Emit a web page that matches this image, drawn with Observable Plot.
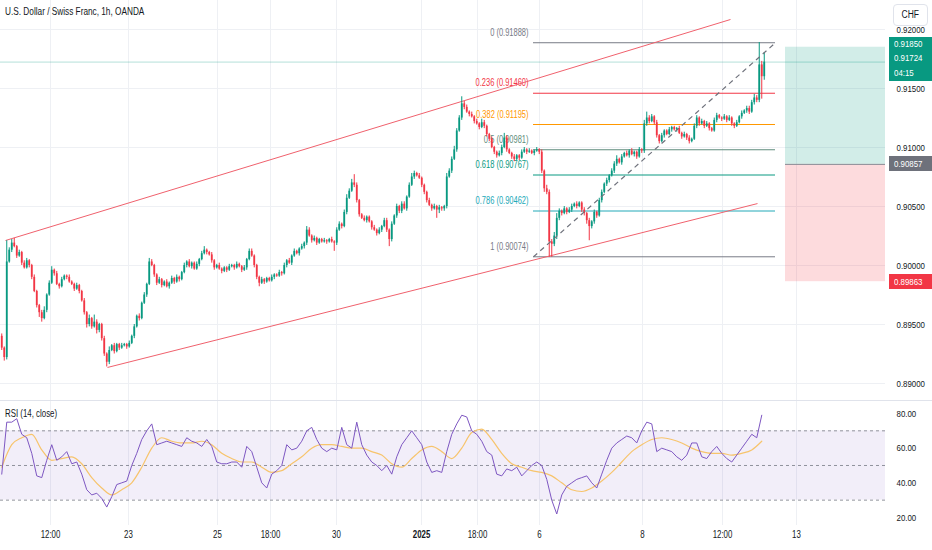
<!DOCTYPE html>
<html><head><meta charset="utf-8">
<script src="https://cdn.jsdelivr.net/npm/d3@7"></script>
<script src="https://cdn.jsdelivr.net/npm/@observablehq/plot@0.6"></script>
<style>
body{margin:0;background:#fff;}
#wrap{position:relative;width:932px;height:550px;overflow:hidden;background:#fff;font-family:"Liberation Sans",Arial,sans-serif;color:#131722;}
#wrap svg{position:absolute;left:0;}
.ov{position:absolute;white-space:nowrap;}
.sq{display:inline-block;transform-origin:0 50%;}
</style></head><body><div id="wrap"></div>
<script>
// ---- DATA ----
const title = "U.S. Dollar / Swiss Franc, 1h, OANDA";
const rsiTitle = "RSI (14, close)";
const firstOpen = 0.8940;
// hourly closes (bar index 0..305)
const closes = [
0.8930,0.8922,0.9003,0.9013,0.9019,0.9016,0.9008,0.9011,0.9002,0.8998,
0.9004,0.9000,0.8990,0.8978,0.8966,0.8960,0.8955,0.8962,0.8975,0.8985,
0.8996,0.8993,0.8984,0.8982,0.8988,0.8991,0.8990,0.8986,0.8984,0.8980,
0.8983,0.8978,0.8970,0.8960,0.8950,0.8955,0.8948,0.8952,0.8945,0.8950,
0.8938,0.8925,0.8918,0.8928,0.8932,0.8927,0.8933,0.8930,0.8932,0.8933,
0.8931,0.8934,0.8940,0.8948,0.8957,0.8955,0.8968,0.8975,0.8984,0.9003,
0.9000,0.8992,0.8985,0.8988,0.8983,0.8986,0.8982,0.8985,0.8989,0.8986,
0.8990,0.8988,0.8994,0.9000,0.9003,0.8999,0.9002,0.8997,0.9001,0.9005,
0.9010,0.9013,0.9011,0.9009,0.9004,0.8998,0.9000,0.8997,0.8995,0.8998,
0.8996,0.8999,0.9000,0.8998,0.9001,0.8999,0.8996,0.8998,0.9005,0.9012,
0.9008,0.9000,0.8990,0.8985,0.8988,0.8986,0.8989,0.8987,0.8990,0.8992,
0.8991,0.8994,0.8993,0.9000,0.9004,0.9002,0.9008,0.9012,0.9010,0.9014,
0.9016,0.9019,0.9030,0.9025,0.9021,0.9023,0.9019,0.9022,0.9020,0.9021,
0.9020,0.9022,0.9020,0.9019,0.9030,0.9035,0.9033,0.9045,0.9057,0.9063,
0.9070,0.9068,0.9055,0.9043,0.9040,0.9038,0.9041,0.9037,0.9032,0.9030,
0.9027,0.9030,0.9033,0.9038,0.9030,0.9022,0.9035,0.9042,0.9050,0.9046,
0.9052,0.9048,0.9058,0.9068,0.9075,0.9078,0.9076,0.9074,0.9068,0.9062,
0.9055,0.9051,0.9048,0.9050,0.9047,0.9049,0.9048,0.9050,0.9075,0.9080,
0.9090,0.9098,0.9114,0.9125,0.9137,0.9134,0.9130,0.9128,0.9126,0.9122,
0.9120,0.9117,0.9121,0.9118,0.9111,0.9107,0.9100,0.9096,0.9093,0.9095,
0.9100,0.9108,0.9098,0.9095,0.9092,0.9090,0.9093,0.9091,0.9096,0.9098,
0.9096,0.9097,0.9095,0.9097,0.9098,0.9096,0.9080,0.9065,0.9062,0.9020,
0.9018,0.9025,0.9040,0.9046,0.9044,0.9048,0.9045,0.9047,0.9050,0.9052,
0.9050,0.9053,0.9047,0.9044,0.9038,0.9033,0.9037,0.9045,0.9042,0.9055,
0.9062,0.9069,0.9072,0.9076,0.9080,0.9086,0.9090,0.9087,0.9092,0.9095,
0.9093,0.9097,0.9094,0.9096,0.9092,0.9098,0.9097,0.9120,0.9125,0.9122,
0.9126,0.9121,0.9110,0.9105,0.9110,0.9114,0.9111,0.9115,0.9117,0.9115,
0.9116,0.9112,0.9109,0.9111,0.9108,0.9105,0.9107,0.9118,0.9125,0.9120,
0.9122,0.9118,0.9120,0.9116,0.9114,0.9123,0.9127,0.9125,0.9124,0.9126,
0.9123,0.9125,0.9120,0.9118,0.9121,0.9126,0.9129,0.9131,0.9133,0.9130,
0.9138,0.9142,0.9140,0.9170,0.9160,0.91724];
// upper / lower wick lengths beyond the body, in pips
const wickUp = [
2,1,18,2,3,4,1,2,1,2, 2,1,1,2,1,1,2,3,1,2, 3,1,2,1,2,1,1,2,1,1, 2,1,1,2,1,3,1,6,2,1,
1,2,1,3,1,2,1,1,2,1, 1,2,1,2,1,2,1,2,1,3, 2,1,1,2,1,1,2,1,2,1, 2,1,1,2,1,2,1,1,2,1,
2,3,1,1,2,1,1,2,1,1, 1,2,1,1,2,1,1,2,1,2, 2,1,1,1,2,1,1,1,2,1, 1,2,1,2,1,2,1,2,1,1,
2,1,3,2,1,2,1,1,1,2, 1,1,2,1,2,2,1,2,3,2, 3,7,2,1,1,2,1,1,1,2, 1,2,1,2,2,1,2,1,2,1,
2,2,1,2,3,2,1,2,1,1, 1,2,1,2,1,2,1,1,3,2, 2,3,2,2,6,2,2,1,2,1, 2,1,3,2,1,1,2,1,1,2,
2,4,2,1,1,2,1,1,2,2, 1,2,1,1,2,1,2,1,3,2, 2,3,4,2,1,2,1,2,2,1, 2,1,1,2,1,2,1,2,1,2,
2,1,2,1,2,2,3,1,2,1, 2,1,2,1,1,2,1,3,5,2, 2,1,2,1,2,1,1,2,1,1, 1,2,1,2,1,2,1,2,2,1,
2,1,2,1,1,2,2,1,1,2, 1,2,1,1,2,1,2,1,2,2, 2,3,2,19,3,8];
const wickDn = [
2,3,2,1,2,1,2,1,2,1, 1,2,2,1,2,4,3,1,2,1, 1,2,1,2,1,1,2,1,1,2, 1,2,1,2,3,2,2,1,3,2,
2,2,4,2,1,2,1,2,1,1, 2,1,1,2,1,2,1,1,2,1, 1,2,2,1,2,1,1,2,1,2, 1,2,1,1,2,1,2,1,1,2,
1,1,2,1,2,2,1,1,2,1, 2,1,1,2,1,1,2,1,2,1, 1,2,2,3,1,2,1,1,1,2, 1,1,2,1,2,1,2,1,1,2,
1,2,2,1,2,1,2,1,1,1, 2,1,1,7,2,1,2,1,2,1, 1,2,2,2,1,1,2,1,2,1, 2,1,2,1,2,6,2,1,2,2,
2,1,2,1,1,2,1,1,2,2, 2,1,2,1,7,3,2,2,2,1, 2,1,2,1,2,2,1,2,1,2, 1,2,1,2,2,2,1,2,2,1,
2,1,2,1,2,2,1,2,1,1, 2,1,1,2,1,2,2,3,2,13, 11,2,3,2,2,1,2,1,2,1, 2,1,2,2,3,12,2,2,2,1,
2,1,2,2,1,2,2,1,2,1, 1,2,1,2,2,1,2,2,2,2, 1,2,2,2,1,2,1,1,2,1, 2,1,2,1,2,2,1,1,2,2,
1,2,1,2,1,1,2,1,2,1, 2,1,2,2,1,1,2,1,2,2, 1,2,2,2,19,3];
// RSI(14) read every 2nd bar, and its moving average read every 4th bar
const rsiValues = [
45,75,75,77,68,66,57,44,43,53, 62,53,55,58,51,52,45,36,33,34, 31,26,32,39,40,41,50,57,65,70,
74,62,63,64,63,62,61,66,64,63, 61,65,61,52,51,51,52,52,49,61, 58,49,40,37,45,47,50,62,59,60,
64,70,72,65,60,58,60,59,72,62, 60,75,62,56,52,50,47,50,45,55, 62,66,70,66,62,52,46,47,46,58,
68,74,79,78,70,68,64,58,56,45, 44,48,47,49,44,47,50,52,50,42, 30,22,33,38,40,42,43,44,40,37,
45,53,60,63,65,67,66,63,70,75, 74,58,60,59,58,55,53,56,63,63, 55,54,58,61,57,54,52,56,60,64,
68,66,79];
const rsiMa = [
49,62,66,68,59,53,54,55,51,43, 37,33,36,40,49,60,66,64,63,63, 64,62,57,54,52,52,49,46,47,51,
55,60,62,62,61,60,60,58,56,51, 49,54,59,61,58,54,60,69,71,65, 57,51,49,47,46,44,40,36,35,37,
41,46,52,58,62,65,66,65,63,60, 58,57,57,56,57,59,64];
// time axis
const timeLabels = ["12:00","23","25","18:00","30","2025","18:00","6","8","12:00","13"];
const timeBars   = [19.5, 50.7, 86.3, 107.5, 133.9, 167.9, 190.3, 215.1, 256.3, 288.3, 317.9];
const priceTicks = [0.89, 0.895, 0.90, 0.905, 0.91, 0.915, 0.92];
const rsiTicks = [20, 40, 60, 80];
const rsiLevels = [70, 50, 30];
// drawings
const fibLevels = ["0","0.236","0.382","0.5","0.618","0.786","1"];
const fibPrices = [0.91888, 0.91460, 0.91195, 0.90981, 0.90767, 0.90462, 0.90074];
const fibColors = ["#787b86","#f23645","#ff9800","#5f8d7c","#089981","#22a9b8","#787b86"];
const fibSpan = [212.7, 309.5];
const channelLines = [
  {x1: 1.5, y1: 0.90212, x2: 291.5, y2: 0.92085},
  {x1: 42.3, y1: 0.89136, x2: 302.3, y2: 0.90525}
];
const fibTrend = {x1: 212.7, y1: 0.90074, x2: 309.5, y2: 0.91888};
const position = {x1: 313.5, x2: 353.5, target: 0.91850, entry: 0.90857, stop: 0.89863};
const lastPrice = 0.91724;
const countdown = "04:15";
const xDomain = [-0.5, 353.5];

// ---- BUILD ----
const FONT = '"Liberation Sans",Arial,sans-serif';
const SQ = 0.75;   // horizontal squeeze of the narrow chart lettering
const SQA = 0.83;  // squeeze for price-scale lettering (smaller font)
const UP = "#089981", DN = "#f23645";
const candles = closes.map((c, i) => {
  const o = i === 0 ? firstOpen : closes[i - 1];
  return {i, o, c, h: Math.max(o, c) + wickUp[i] / 1e4, l: Math.min(o, c) - wickDn[i] / 1e4,
          col: c >= o ? UP : DN};
});
const fibs = fibLevels.map((lv, k) => ({lv, p: fibPrices[k], col: fibColors[k]}));
const rsiData = rsiValues.map((v, k) => ({x: 2 * k, v}));
const maData = rsiMa.map((v, k) => ({x: 4 * k, v}));
const ticksData = timeLabels.map((t, k) => ({x: timeBars[k], t}));

const wrap = document.getElementById("wrap");

function squeeze(svg) {
  svg.querySelectorAll("text").forEach(t => {
    const f = t.closest("[aria-label='y-axis tick label']") ? SQA : SQ;
    const spans = t.querySelectorAll("tspan");
    const els = spans.length ? Array.from(spans) : [t];
    els.forEach(el => {
      const L = el.getComputedTextLength();
      if (L > 0) { el.setAttribute("textLength", (L * f).toFixed(2)); el.setAttribute("lengthAdjust", "spacingAndGlyphs"); }
    });
  });
}

const price = Plot.plot({
  width: 932, height: 400, marginLeft: 0, marginRight: 47, marginTop: 0, marginBottom: 0,
  x: {domain: xDomain, axis: null},
  y: {domain: [0.88856, 0.92246], axis: null},
  color: {type: "identity"},
  style: {fontFamily: FONT, fontSize: "10px", color: "#131722", background: "transparent", overflow: "visible"},
  marks: [
    Plot.gridY(priceTicks, {stroke: "#eef0f4", strokeOpacity: 1}),
    Plot.gridX(timeBars, {stroke: "#eef0f4", strokeOpacity: 1}),
    Plot.rect([position], {x1: "x1", x2: "x2", y1: "entry", y2: "target", fill: UP, fillOpacity: 0.18}),
    Plot.rect([position], {x1: "x1", x2: "x2", y1: "stop", y2: "entry", fill: DN, fillOpacity: 0.18}),
    Plot.ruleY([position], {y: "entry", x1: "x1", x2: "x2", stroke: "#8a8d96", strokeWidth: 1}),
    Plot.ruleY([lastPrice], {stroke: UP, strokeOpacity: 0.3}),
    Plot.ruleY(fibs, {y: "p", x1: fibSpan[0], x2: fibSpan[1], stroke: "col", strokeWidth: 1}),
    Plot.text(fibs, {x: fibSpan[0], y: "p", text: d => `${d.lv} (${d.p.toFixed(5)})`, fill: "col",
      textAnchor: "end", dx: -5, dy: -10, fontSize: 10}),
    Plot.link(channelLines, {x1: "x1", y1: "y1", x2: "x2", y2: "y2", stroke: "#f0616d", strokeWidth: 1}),
    Plot.ruleX(candles, {x: "i", y1: "l", y2: "h", stroke: "col", strokeWidth: 1}),
    Plot.ruleX(candles, {x: "i", y1: "o", y2: "c", stroke: "col", strokeWidth: 1.8}),
    Plot.link([fibTrend], {x1: "x1", y1: "y1", x2: "x2", y2: "y2", stroke: "#6f727c", strokeWidth: 1.2, strokeDasharray: "5,4"}),
    Plot.axisY(priceTicks, {anchor: "right", tickSize: 0, tickPadding: 11, tickFormat: d3.format(".5f"), fontSize: 9.5})
  ]
});
price.style.top = "0px";
wrap.appendChild(price);
squeeze(price);

const rsi = Plot.plot({
  width: 932, height: 150, marginLeft: 0, marginRight: 47, marginTop: 0, marginBottom: 25,
  x: {domain: xDomain, axis: null},
  y: {domain: [15.37, 87.5], axis: null},
  style: {fontFamily: FONT, fontSize: "10px", color: "#131722", background: "transparent", overflow: "visible"},
  marks: [
    Plot.gridX(timeBars, {stroke: "#eef0f4", strokeOpacity: 1}),
    Plot.rect([{a: 30, b: 70}], {x1: xDomain[0], x2: xDomain[1], y1: "a", y2: "b", fill: "#7e57c2", fillOpacity: 0.1}),
    Plot.ruleY(rsiLevels, {stroke: "#787b86", strokeDasharray: "3,3", strokeOpacity: 0.8}),
    Plot.line(maData, {x: "x", y: "v", stroke: "#f7c46c", strokeWidth: 1.2, curve: "monotone-x"}),
    Plot.line(rsiData, {x: "x", y: "v", stroke: "#7e57c2", strokeWidth: 1}),
    Plot.axisY(rsiTicks, {anchor: "right", tickSize: 0, tickPadding: 11, tickFormat: d3.format(".2f"), fontSize: 9.5}),
    Plot.text(ticksData.filter(d => d.t !== "2025"), {x: "x", text: "t", frameAnchor: "bottom", dy: 12, fontSize: 10.5, fill: "#131722"}),
    Plot.text(ticksData.filter(d => d.t === "2025"), {x: "x", text: "t", frameAnchor: "bottom", dy: 12, fontSize: 10.5, fontWeight: "bold", fill: "#131722"})
  ]
});
rsi.style.top = "400px";
wrap.appendChild(rsi);
squeeze(rsi);

// pane separator
const sep = document.createElement("div");
sep.style.cssText = "position:absolute;left:0;top:400px;width:932px;height:1px;background:#e0e3eb;";
wrap.appendChild(sep);

// overlays
function ov(html, css, sq) {
  const d = document.createElement("div");
  d.className = "ov";
  d.innerHTML = `<span class="sq" style="transform:scaleX(${sq})">${html}</span>`;
  d.style.cssText += css; wrap.appendChild(d); return d;
}
ov(title, "left:5px;top:5px;font-size:11px;", 0.75);
ov(rsiTitle, "left:5px;top:407px;font-size:10.5px;", SQ);

const ys = price.scale("y");
const yT = ys.apply(position.target), yE = ys.apply(position.entry), yS = ys.apply(position.stop);
ov(`${position.target.toFixed(5)}<br>${lastPrice.toFixed(5)}<br>${countdown}`,
   `left:889px;top:${yT - 10}px;width:43px;height:44px;background:${UP};color:#fff;font-size:9.5px;line-height:14.5px;padding-left:5px;box-sizing:border-box;`, SQA);
ov(position.entry.toFixed(5),
   `left:889px;top:${yE - 7.5}px;width:43px;height:15px;background:#6e717b;color:#fff;font-size:9.5px;line-height:15px;padding-left:5px;box-sizing:border-box;`, SQA);
ov(position.stop.toFixed(5),
   `left:889px;top:${yS - 7.5}px;width:43px;height:15px;background:${DN};color:#fff;font-size:9.5px;line-height:15px;padding-left:5px;box-sizing:border-box;`, SQA);
const chf = ov("CHF", "left:893px;top:4px;width:35px;height:22px;background:#fff;border:1px solid #e0e3eb;border-radius:4px;box-sizing:border-box;font-size:10px;line-height:20px;text-align:center;", 0.85);
chf.firstChild.style.transformOrigin = "50% 50%";
</script></body></html>
